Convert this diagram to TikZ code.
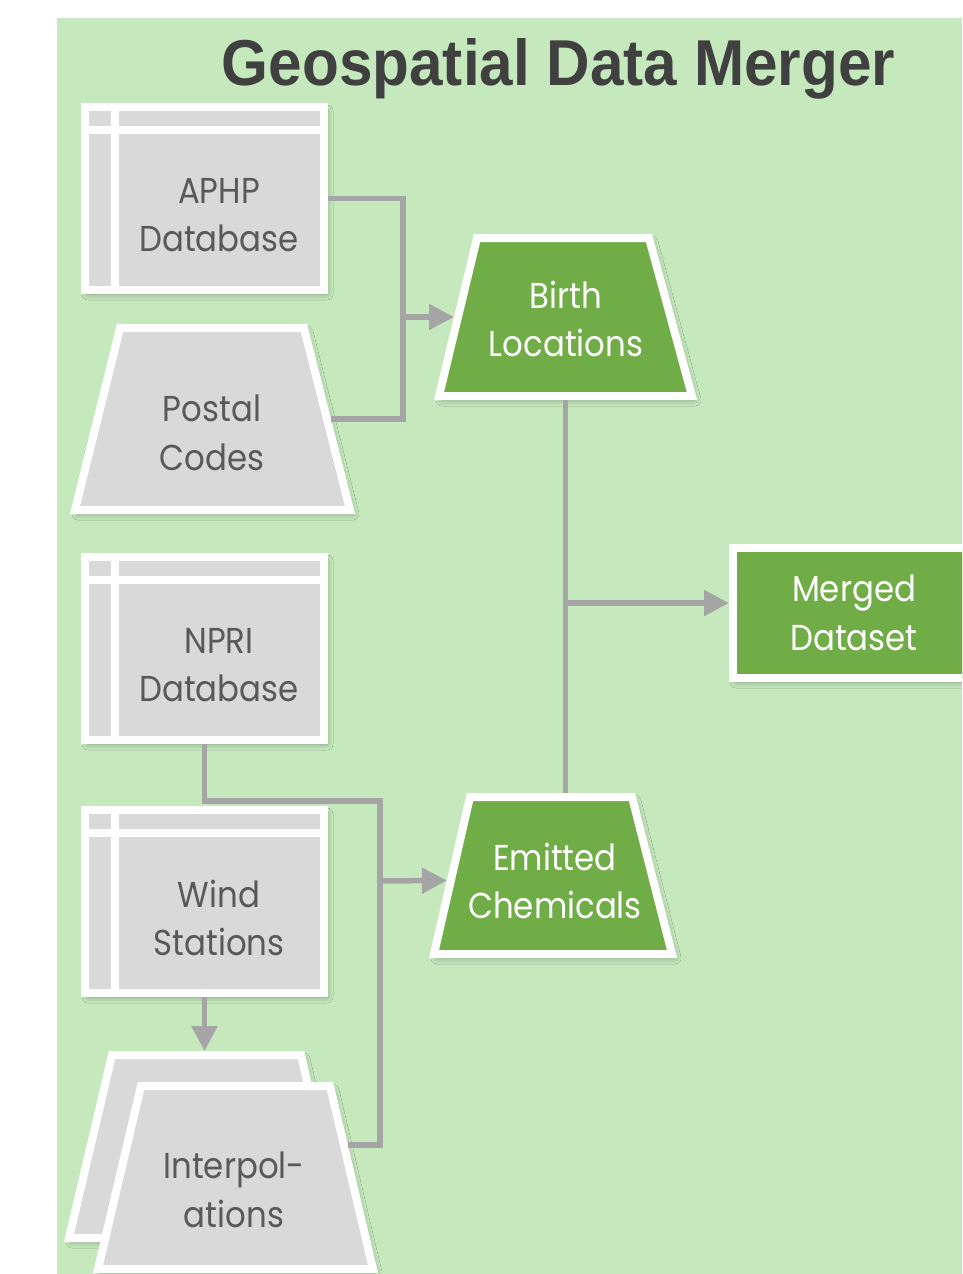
\documentclass[tikz,border=0pt]{standalone}
\usepackage{fontspec}
\usepackage{graphicx}
\usetikzlibrary{calc,arrows.meta,shadows.blur}

\newfontfamily\bodyfont[FakeStretch=0.9]{Poppins}
\newfontfamily\titlefont{Liberation Sans}

\definecolor{panel}{RGB}{197,233,189}
\definecolor{shapegray}{HTML}{D9D9D9}
\definecolor{accent}{HTML}{70AD47}
\definecolor{linkgray}{HTML}{A5A5A5}
\definecolor{labelgray}{HTML}{595959}
\definecolor{titlegray}{HTML}{404040}

% Trapezoid drawn inside the outer bounds of a named rectangle node:
% #1 node, #2 / #3 horizontal inset of the top-left / top-right corner, #4 style
\newcommand\trapshape[4]{%
  \path[#4] ($(#1.south west)+(5,-4)$) -- ($(#1.south east)+(-5,-4)$)
    -- ($(#1.north east)+(-#3-3,4)$) -- ($(#1.north west)+(#2+3,4)$) -- cycle;}

\tikzset{
  softshadow/.style={blur shadow={shadow xshift=3pt,shadow yshift=-4pt,
      shadow blur radius=6pt,shadow opacity=35}},
  bodytext/.style={font=\bodyfont\fontsize{36pt}{48.5pt}\selectfont,
      align=center, inner sep=0pt},
  graytext/.style={bodytext, text=labelgray},
  whitetext/.style={bodytext, text=white},
  dbbox/.style={rectangle, fill=shapegray, draw=white, line width=8pt,
      minimum width=239pt, minimum height=183pt, inner sep=0pt, softshadow,
      path picture={
        \draw[white, line width=8pt]
          ([xshift=30pt]path picture bounding box.north west) --
          ([xshift=30pt]path picture bounding box.south west);
        \draw[white, line width=8pt]
          ([yshift=-23pt]path picture bounding box.north west) --
          ([yshift=-23pt]path picture bounding box.north east);
      }},
  trapzone/.style={rectangle, inner sep=0pt, outer sep=0pt},
  graytrap/.style={fill=shapegray, draw=white, line width=8pt, softshadow},
  greentrap/.style={fill=accent, draw=white, line width=8pt, softshadow},
  greenbox/.style={rectangle, fill=accent, draw=white, line width=8pt,
      inner sep=0pt, softshadow, whitetext},
  link/.style={draw=linkgray, line width=5.5pt},
  feed/.style={link, -{Triangle[length=25pt,width=25pt]}},
}

\begin{document}
\begin{tikzpicture}[x=1pt, y=-1pt]
\useasboundingbox (0,0) rectangle (962,1274);
\clip (0,0) rectangle (962,1274);
\fill[white] (0,0) rectangle (962,1274);
\fill[panel] (57,18) rectangle (962,1274);

% title
\node[inner sep=0pt, anchor=base, text=titlegray] (title) at (558.5,85)
  {\resizebox{673pt}{47pt}{\titlefont\bfseries Geospatial Data Merger}};

% source data
\node[dbbox] (aphp) at (204.5,198.5) {};
\node[graytext] (aphp-t) at ($(aphp.center)+(14.5,16.5)$) {APHP\\Database};

\node[trapzone, minimum width=285pt, minimum height=190pt] (postal) at (212.5,419) {};
\trapshape{postal}{47}{48}{graytrap}
\node[graytext] (postal-t) at (212,433) {Postal\\Codes};

\node[dbbox] (npri) at (204.5,648.5) {};
\node[graytext] (npri-t) at ($(npri.center)+(14.5,16.5)$) {NPRI\\Database};

\node[dbbox] (wind) at (204.5,901.5) {};
\node[graytext] (wind-t) at ($(wind.center)+(14.5,16.5)$) {Wind\\Stations};

\node[trapzone, minimum width=285pt, minimum height=191pt] (interp-back) at (206.5,1146.5) {};
\trapshape{interp-back}{45}{45}{graytrap}
\node[trapzone, minimum width=285pt, minimum height=191pt] (interp) at (235.5,1177.5) {};
\trapshape{interp}{45}{45}{graytrap}
\node[graytext] (interp-t) at (234,1190) {Interpol-\\ations};

% derived data
\node[trapzone, minimum width=263pt, minimum height=166pt] (birth) at (565.5,317) {};
\trapshape{birth}{40}{45}{greentrap}
\node[whitetext] (birth-t) at (566,319) {Birth\\Locations};

\node[trapzone, minimum width=248pt, minimum height=165pt] (emitted) at (553,875.5) {};
\trapshape{emitted}{38}{42}{greentrap}
\node[whitetext] (emitted-t) at (555,881) {Emitted\\Chemicals};

\node[greenbox, minimum width=242pt, minimum height=130pt] (merged) at (854,613) {Merged\\Dataset};

% connectors
\coordinate (join-a) at (403,317);
\draw[link] (aphp.east) -| (join-a)
  |- ($([xshift=-48pt]postal.north east)!0.5!(postal.south east)$);
\draw[feed] (join-a) -- ($([xshift=40pt]birth.north west)!0.5!(birth.south west)$);

\draw[link] (birth.south) -- (birth.south |- emitted.north);
\coordinate (join-b) at (565.5,603);
\draw[feed] (join-b) -- (join-b -| merged.west);

\coordinate (join-c) at (380,881);
\draw[link] (npri.south) -- ++(0,57) -| (join-c)
  |- ($([xshift=-45pt]interp.north east)!0.33!(interp.south east)$);
\draw[feed] (join-c) -- ($([xshift=38pt]emitted.north west)!0.53!(emitted.south west)$);

\draw[feed] (wind.south) -- (wind.south |- interp-back.north);
\end{tikzpicture}
\end{document}
